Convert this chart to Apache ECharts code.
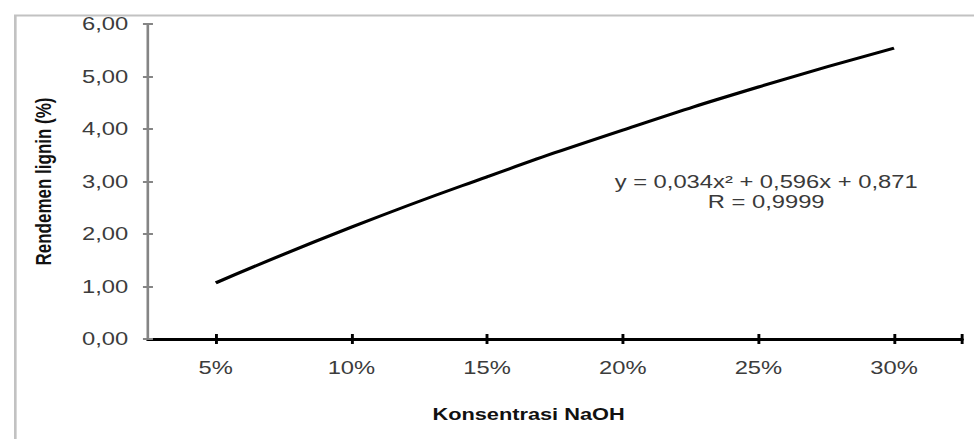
<!DOCTYPE html>
<html>
<head>
<meta charset="utf-8">
<script src="https://cdn.jsdelivr.net/npm/echarts@6/dist/echarts.min.js"></script>
<style>
html,body{margin:0;padding:0;background:#fff;overflow:hidden;}
#wrap{width:974px;height:439px;overflow:hidden;}
#chart{width:738px;height:439px;transform:scaleX(1.3198);transform-origin:0 0;}
</style>
</head>
<body>
<div id="wrap"><div id="chart"></div></div>
<script>
// Data
const categories = [5, 10, 15, 20, 25, 30];          // Konsentrasi NaOH (%)
const rendemen = [1.07, 2.13, 3.09, 3.98, 4.80, 5.54]; // Rendemen lignin (%)
const xTickValues = [5, 10, 15, 20, 25, 30, 32.5];
const yTickLabels = ['0,00', '1,00', '2,00', '3,00', '4,00', '5,00', '6,00'];
const equationLines = ['y = 0,034x² + 0,596x + 0,871', 'R = 0,9999'];

const chart = echarts.init(document.getElementById('chart'), null, {renderer: 'svg'});
const seriesData = categories.map((c, i) => [c, rendemen[i]]);
const font = 'Liberation Sans, Arial, sans-serif';

chart.setOption({
  animation: false,
  backgroundColor: '#fff',
  grid: {left: 112.1, right: 9.2, top: 24, bottom: 100, containLabel: false, outerBoundsMode: 'none'},
  xAxis: [{
    type: 'value', min: 2.5, max: 32.5,
    name: 'Konsentrasi NaOH', nameLocation: 'middle', nameGap: 67,
    nameTextStyle: {fontFamily: font, fontSize: 16.5, fontWeight: 'bold', color: '#111', padding: [0, 40, 0, 0]},
    axisLine: {show: true, lineStyle: {color: '#000', width: 3}},
    axisTick: {show: true, length: 5, lineStyle: {color: '#000', width: 2.2}, customValues: xTickValues},
    axisLabel: {show: true, margin: 20, fontFamily: font, fontSize: 18, color: '#3c3c3c',
      customValues: categories, formatter: v => v + '%'},
    splitLine: {show: false}
  }, {
    type: 'value', min: 2.5, max: 32.5, position: 'bottom',
    axisLine: {show: false},
    axisTick: {show: true, inside: true, length: 5, lineStyle: {color: '#000', width: 2.2}, customValues: xTickValues},
    axisLabel: {show: false}, splitLine: {show: false}
  }],
  yAxis: [{
    type: 'value', min: 0, max: 6, interval: 1,
    name: 'Rendemen lignin (%)', nameLocation: 'middle', nameGap: 71, nameRotate: 90,
    nameTextStyle: {fontFamily: font, fontSize: 17, fontWeight: 'bold', color: '#111'},
    axisLine: {show: true, lineStyle: {color: '#858585', width: 2}},
    axisTick: {show: true, length: 3.8, lineStyle: {color: '#858585', width: 2}},
    axisLabel: {show: true, margin: 15, fontFamily: font, fontSize: 18, color: '#3c3c3c',
      formatter: v => yTickLabels[Math.round(v)]},
    splitLine: {show: false}
  }, {
    type: 'value', min: 0, max: 6, interval: 1, position: 'left',
    axisLine: {show: false},
    axisTick: {show: true, inside: true, length: 3.8, lineStyle: {color: '#858585', width: 2}},
    axisLabel: {show: false}, splitLine: {show: false}
  }],
  series: [{
    type: 'line', xAxisIndex: 0, yAxisIndex: 0,
    data: seriesData, smooth: true, showSymbol: false, symbol: 'none',
    lineStyle: {color: '#000', width: 3}, z: 5
  }],
  graphic: [{
    type: 'rect', left: 9.1, top: 13, silent: true, z: -1,
    shape: {width: 900, height: 600},
    style: {fill: 'none', stroke: '#c2c2c2', lineWidth: 2}
  }, {
    type: 'text', x: 580.5, y: 172, silent: true,
    style: {text: equationLines.join('\n'), font: '18px ' + font, fill: '#3a3a3a',
      textAlign: 'center', textVerticalAlign: 'top', lineHeight: 20}
  }]
});
</script>
</body>
</html>
